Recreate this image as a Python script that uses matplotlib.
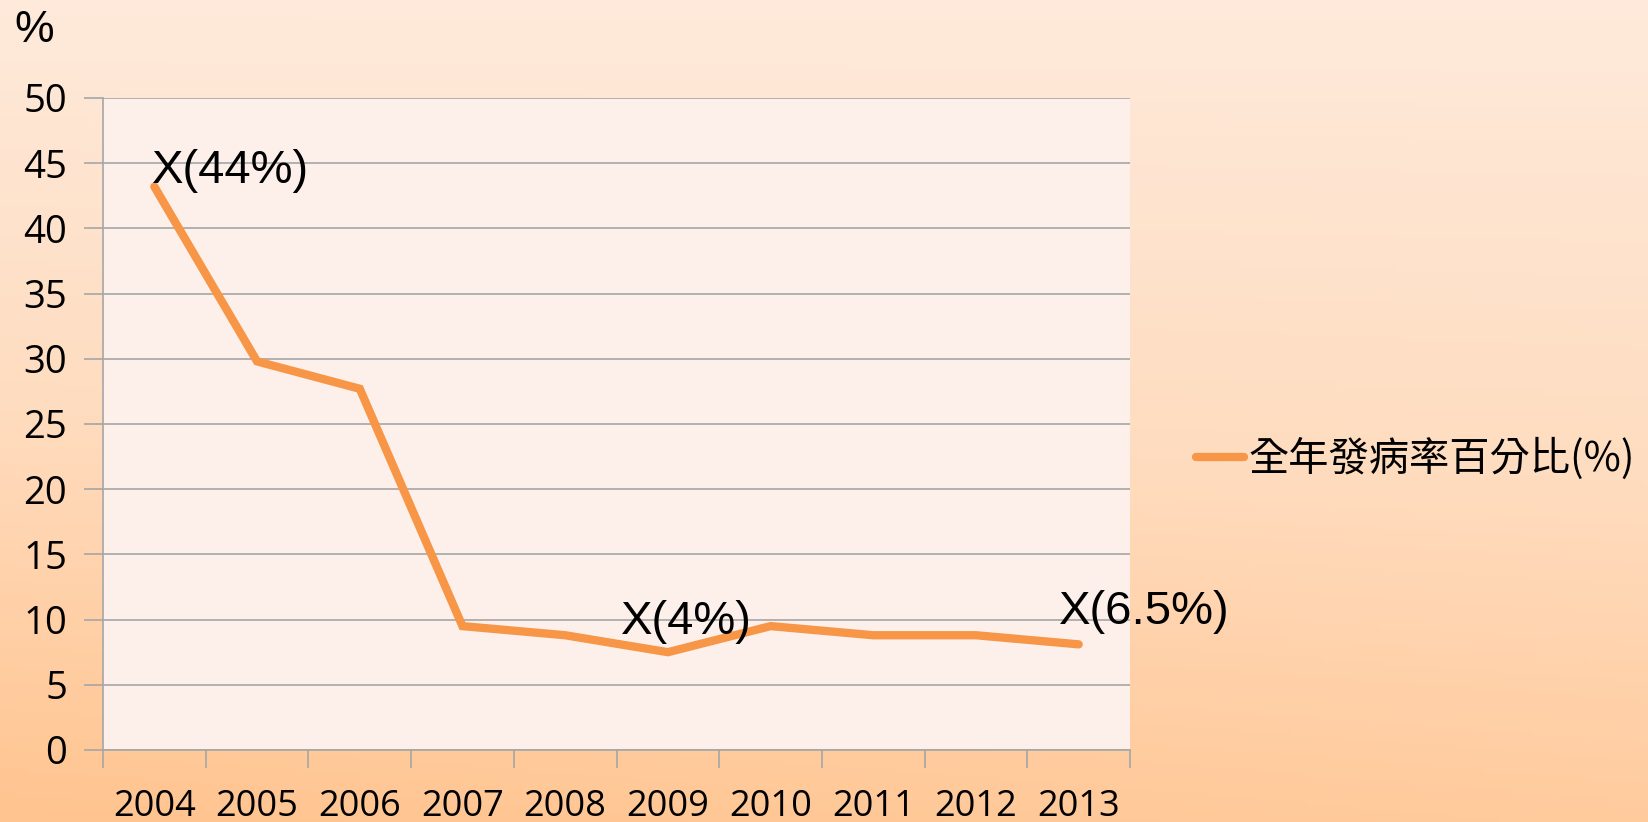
import numpy as np
import matplotlib
matplotlib.use("Agg")
import matplotlib.pyplot as plt
from matplotlib.colors import LinearSegmentedColormap

years = ['2004', '2005', '2006', '2007', '2008', '2009', '2010', '2011', '2012', '2013']
rate = [43.2, 29.8, 27.7, 9.5, 8.8, 7.5, 9.5, 8.8, 8.8, 8.1]
notes = {0: 'X(44%)', 5: 'X(4%)', 9: 'X(6.5%)'}
series_name = '全年發病率百分比(%)'

orange = '#F79646'

fig = plt.figure(figsize=(16.48, 8.22), dpi=100)

# background gradient
bg = fig.add_axes([0, 0, 1, 1], zorder=-10)
yy, xx = np.mgrid[0:1:200j, 0:1:300j]
grad = np.clip(yy * 0.85 + (1 - xx) * 0.15 * yy, 0, 1)
cmap = LinearSegmentedColormap.from_list('peach', ['#FEEADB', '#FFDCBF', '#FFC48F'])
bg.imshow(grad, cmap=cmap, aspect='auto', extent=[0, 1, 0, 1], origin='upper')
bg.axis('off')

ax = fig.add_axes([0.0625, 0.0876, 0.6232, 0.7932])
ax.set_facecolor('#FDF0EB')
x = np.arange(len(years))
line, = ax.plot(x, rate, color=orange, lw=6, solid_capstyle='round',
                solid_joinstyle='miter', zorder=3, label=series_name)

ax.set_xlim(-0.5, len(years) - 0.5)
ax.set_ylim(0, 50)
ax.set_yticks(range(0, 51, 5))
ax.yaxis.grid(True, color='#A6A6A6', lw=1.2)
ax.set_axisbelow(True)

# category ticks at boundaries, labels at centres
ax.set_xticks(np.arange(-0.5, len(years), 1))
ax.set_xticklabels([])
ax.set_xticks(x, minor=True)
ax.set_xticklabels(years, minor=True, fontsize=26, fontfamily='Open Sans')
ax.tick_params(axis='x', which='major', length=13, color='#A6A6A6', width=1.2)
ax.tick_params(axis='x', which='minor', length=0, pad=28)
ax.tick_params(axis='y', length=14, color='#A6A6A6', width=1.2, pad=12)
for lab in ax.get_yticklabels():
    lab.set_fontsize(27.5)
    lab.set_fontfamily('Open Sans')

for side in ['top', 'right']:
    ax.spines[side].set_visible(False)
for side in ['left', 'bottom']:
    ax.spines[side].set_color('#A6A6A6')
    ax.spines[side].set_linewidth(1.2)

offsets = {0: (-0.02, 0.3), 5: (-0.46, 1.4), 9: (-0.19, 1.55)}
for i, txt in notes.items():
    dx, dy = offsets[i]
    ax.text(x[i] + dx, rate[i] + dy, txt, fontsize=34, fontfamily='Liberation Sans',
            ha='left', va='baseline', zorder=4)

fig.text(0.009, 0.963, '%', fontsize=32, fontfamily='Liberation Sans', va='center')

fig.legend(handles=[line], loc='center left', bbox_to_anchor=(0.716, 0.4416),
           frameon=False, handlelength=1.2, handletextpad=0.1, borderaxespad=0,
           prop={'family': ['Noto Sans CJK TC', 'DejaVu Sans'], 'size': 29})

fig.savefig('out.png', dpi=100)
